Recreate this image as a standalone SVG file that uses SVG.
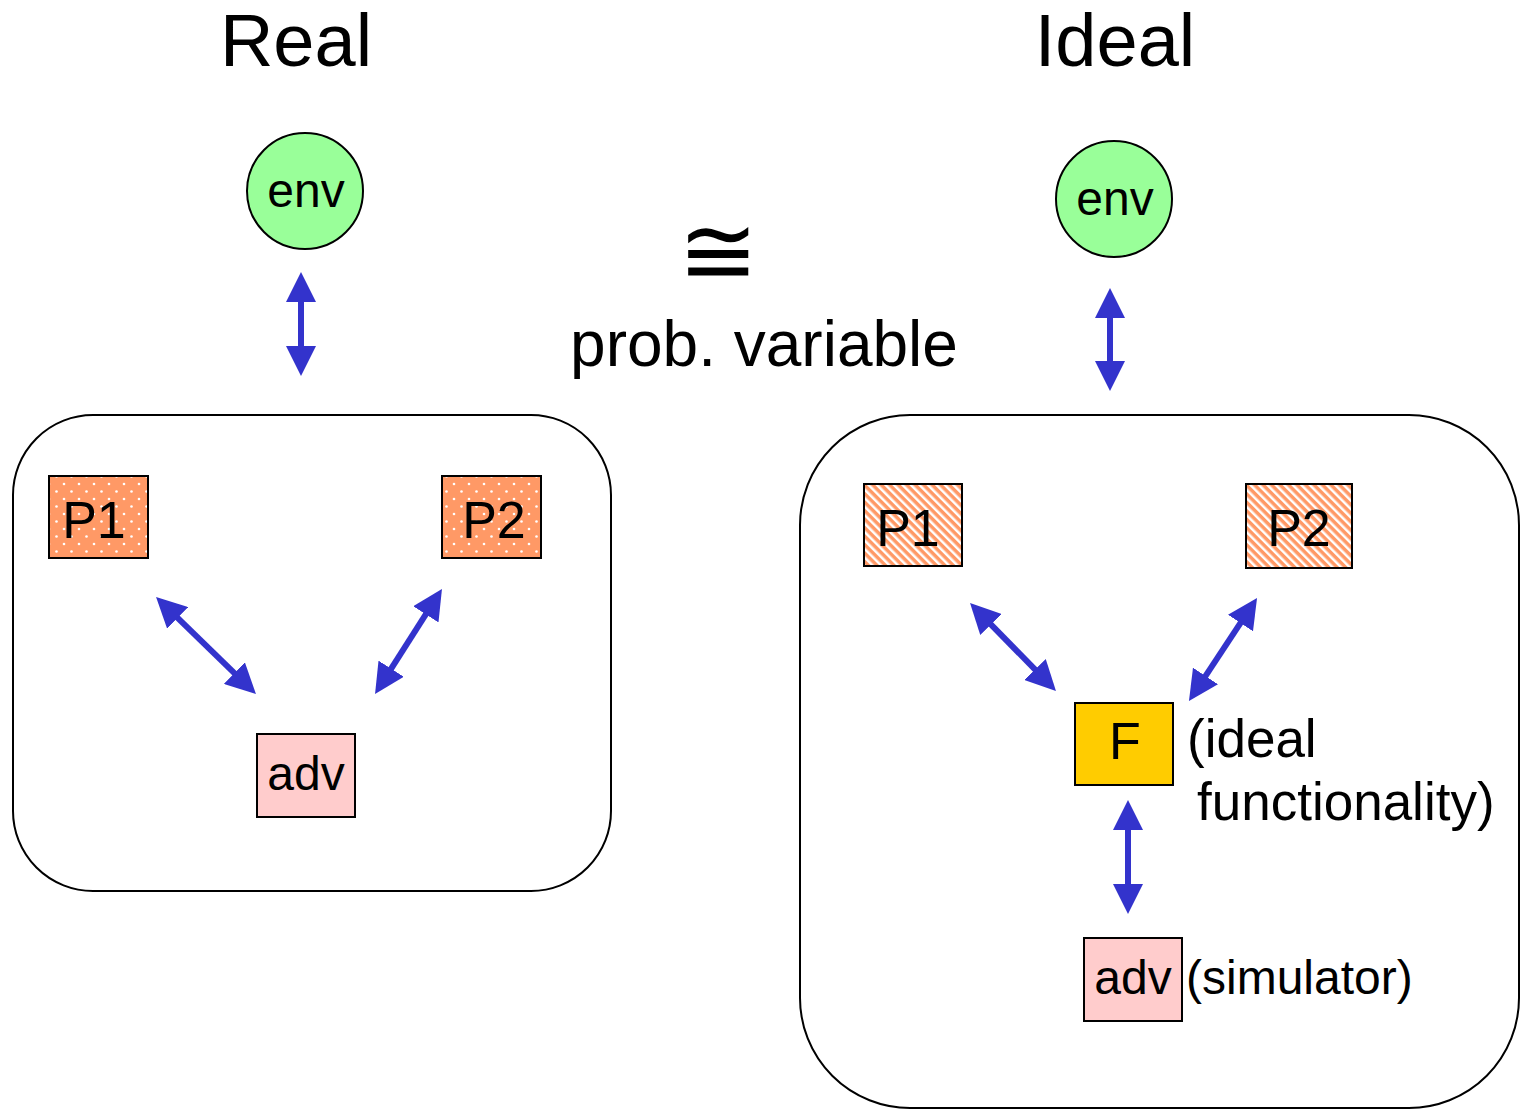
<svg xmlns="http://www.w3.org/2000/svg" width="1522" height="1109" viewBox="0 0 1522 1109">
<style>
.t{font-family:"Liberation Sans",Arial,sans-serif;fill:#000}
.frame{fill:#fff;stroke:#000;stroke-width:2}
.box{stroke:#000;stroke-width:2}
.env{fill:#99FF99;stroke:#000;stroke-width:2}
.arr{stroke:#3333CC;stroke-width:6;fill:none;marker-start:url(#ah);marker-end:url(#ah)}
</style>
<defs>
<marker id="ah" viewBox="0 0 30 30" refX="10" refY="15" markerWidth="30" markerHeight="30" markerUnits="userSpaceOnUse" orient="auto-start-reverse">
<path d="M0,0 L30,15 L0,30 z" fill="#3333CC"/>
</marker>
<pattern id="dots" width="15" height="15" patternUnits="userSpaceOnUse">
<rect width="15" height="15" fill="#FF9966"/>
<circle cx="4" cy="4" r="1.3" fill="#fff"/>
<circle cx="11.5" cy="11.5" r="1.3" fill="#fff"/>
</pattern>
<pattern id="stripes" width="6" height="6" patternUnits="userSpaceOnUse" patternTransform="rotate(-45)">
<rect width="6" height="6" fill="#FF9966"/>
<rect width="2.5" height="6" fill="#fff"/>
</pattern>
</defs>
<text class="t" x="296" y="66" font-size="74" text-anchor="middle">Real</text>
<text class="t" x="1115" y="66" font-size="74" text-anchor="middle">Ideal</text>
<text x="718" y="284" font-size="96" text-anchor="middle" font-family="'DejaVu Serif','Liberation Serif',serif">≅</text>
<text class="t" x="764" y="366" font-size="64" text-anchor="middle">prob. variable</text>
<g id="real-frame"><rect class="frame" x="13" y="415" width="598" height="476" rx="80"/></g>
<g id="ideal-frame"><rect class="frame" x="800" y="415" width="719" height="693" rx="110"/></g>
<g id="env-real"><circle class="env" cx="305" cy="191" r="58"/><text class="t" x="306" y="207" font-size="48" text-anchor="middle">env</text></g>
<g id="env-ideal"><circle class="env" cx="1114" cy="199" r="58"/><text class="t" x="1115" y="215" font-size="48" text-anchor="middle">env</text></g>
<g id="p1-real"><rect class="box" x="49" y="476" width="99" height="82" fill="url(#dots)"/><text class="t" x="94" y="538" font-size="52" text-anchor="middle">P1</text></g>
<g id="p2-real"><rect class="box" x="442" y="476" width="99" height="82" fill="url(#dots)"/><text class="t" x="494" y="538" font-size="52" text-anchor="middle">P2</text></g>
<g id="adv-real"><rect class="box" x="257" y="734" width="98" height="83" fill="#FFCCCC"/><text class="t" x="306" y="790" font-size="48" text-anchor="middle">adv</text></g>
<g id="p1-ideal"><rect class="box" x="864" y="484" width="98" height="82" fill="url(#stripes)"/><text class="t" x="908" y="546" font-size="52" text-anchor="middle">P1</text></g>
<g id="p2-ideal"><rect class="box" x="1246" y="484" width="106" height="84" fill="url(#stripes)"/><text class="t" x="1299" y="546" font-size="52" text-anchor="middle">P2</text></g>
<g id="f-ideal"><rect class="box" x="1075" y="703" width="98" height="82" fill="#FFCC00"/><text class="t" x="1125" y="759" font-size="52" text-anchor="middle">F</text>
<text class="t" x="1187" y="757" font-size="53">(ideal</text><text class="t" x="1197" y="820" font-size="53">functionality)</text></g>
<g id="adv-ideal"><rect class="box" x="1084" y="938" width="98" height="83" fill="#FFCCCC"/><text class="t" x="1133" y="994" font-size="48" text-anchor="middle">adv</text>
<text class="t" x="1186" y="994" font-size="48">(simulator)</text></g>
<g id="connectors">
<path class="arr" d="M301,292 L301,356"/>
<path class="arr" d="M1110,308 L1110,371"/>
<path class="arr" d="M1128,820 L1128,894"/>
<path class="arr" d="M170.4,610.9 L241.6,680.1"/>
<path class="arr" d="M431.2,605.9 L385.8,677.1"/>
<path class="arr" d="M984,617.3 L1042,676.7"/>
<path class="arr" d="M1246,614.7 L1200,684.3"/>
</g>
</svg>
